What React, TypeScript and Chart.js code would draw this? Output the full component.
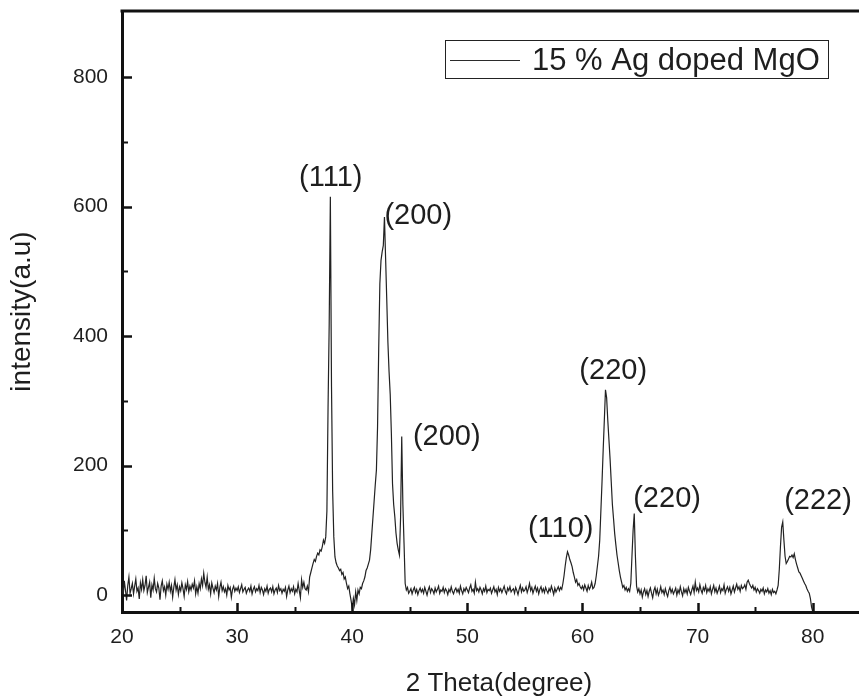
import React, { useEffect, useRef } from 'react';
import { Chart, registerables } from 'chart.js';

Chart.register(...registerables);

const seriesLabel = '15 % Ag doped MgO';
const angleStart = 20;
const angleStep = 0.1;

// intensity (a.u.) sampled every 0.1 degree from 20.0 to 80.0
const intensity = [
  12, -2, 22, 8, -8, 15, 28, 3, 10, 18, // 20
  2, 14, 25, 6, 11, -6, 19, 9, 24, 7, // 21
  15, 30, 4, 12, 20, -4, 16, 8, 26, 10, // 22
  5, 18, 11, -7, 14, 22, 7, 13, 0, 17, // 23
  9, 20, 6, 15, -3, 12, 24, 8, 16, 1, // 24
  13, 7, 19, 10, -2, 16, 9, 21, 5, 14, // 25
  8, 17, 11, 22, 2, 13, 3, 18, 10, 25, // 26
  15, 34, 20, 12, 28, 9, 16, 2, 19, 11, // 27
  4, 14, 8, 18, -2, 12, 20, 7, 13, 5, // 28
  10, 0, 15, 8, 12, -3, 9, 14, 6, 11, // 29
  7, 13, 4, 10, 16, 5, 9, 12, 3, 8, // 30
  11, 6, 14, 2, 9, 13, 5, 10, 7, 15, // 31
  4, 12, 8, 1, 10, 6, 14, 3, 9, 11, // 32
  5, 13, 2, 8, 11, 4, 15, 7, 10, 3, // 33
  9, 6, 12, -2, 8, 14, 4, 10, 6, 13, // 34
  2, 9, 5, 18, 7, -4, 24, 12, 20, 10, // 35
  8, 14, 5, 28, 35, 42, 49, 55, 52, 60, // 36
  65, 62, 70, 68, 75, 85, 80, 90, 130, 290, // 37
  420, 615, 322, 160, 90, 59, 50, 45, 42, 38, // 38
  40, 32, 35, 25, 28, 18, 10, 14, 2, -8, // 39
  -20, -5, -15, 5, -8, 8, 2, 12, 10, 18, // 40
  22, 28, 38, 42, 48, 54, 70, 95, 120, 145, // 41
  170, 193, 260, 380, 481, 517, 530, 540, 584, 520, // 42
  456, 390, 345, 310, 250, 172, 140, 121, 96, 80, // 43
  70, 62, 120, 245, 140, 80, 18, 8, 12, 3, // 44
  6, 10, 2, 8, 12, 4, 9, 1, 7, 11, // 45
  5, 9, 3, 12, 6, 0, 8, 13, 4, 10, // 46
  7, 2, 11, 5, 9, 14, 3, 8, 6, 12, // 47
  4, 10, 7, 1, 9, 5, 13, 6, 2, 8, // 48
  11, 5, 9, 3, 14, 7, 2, 10, 6, 12, // 49
  8, 4, 11, 16, 6, 9, 3, 20, 7, 10, // 50
  5, 12, 8, 2, 10, 6, 14, 4, 9, 7, // 51
  11, 3, 8, 13, 5, 9, 1, 12, 6, 10, // 52
  4, 9, 14, 6, 2, 11, 7, 13, 5, 8, // 53
  10, 3, 12, 7, 1, 9, 15, 5, 11, 6, // 54
  8, 13, 4, 10, 18, 7, 12, 3, 9, 14, // 55
  6, 11, 2, 9, 13, 5, 10, 4, 12, 7, // 56
  3, 10, 6, 14, 8, 1, 11, 5, 9, 13, // 57
  7, 12, 9, 18, 30, 45, 58, 67, 62, 55, // 58
  50, 44, 35, 28, 20, 24, 15, 18, 13, 10, // 59
  14, 8, 16, 11, 6, 15, 9, 13, 20, 10, // 60
  12, 18, 30, 45, 60, 85, 130, 175, 224, 270, // 61
  317, 305, 270, 240, 210, 175, 140, 118, 95, 78, // 62
  62, 50, 38, 28, 20, 12, 15, 8, 12, 6, // 63
  10, 6, 18, 60, 100, 126, 60, 14, 5, 10, // 64
  2, 8, -3, 5, 10, 1, 7, -2, 6, 11, // 65
  3, -4, 7, 12, 2, 9, 0, 5, 13, 4, // 66
  8, 1, 10, 3, -2, 7, 12, 4, 9, 2, // 67
  6, 11, 0, 8, 3, 13, 5, -1, 10, 4, // 68
  9, 2, 12, 6, 1, 8, 14, 4, 20, 7, // 69
  11, 5, 16, 8, 3, 12, 7, 15, 4, 10, // 70
  6, 13, 2, 9, 15, 5, 11, 3, 8, 14, // 71
  4, 10, 7, 16, 3, 9, 13, 6, 12, 2, // 72
  8, 14, 5, 11, 17, 9, 13, 6, 15, 10, // 73
  12, 16, 9, 20, 23, 18, 14, 11, 15, 8, // 74
  12, 5, 10, 7, 3, 9, 6, 11, 2, 8, // 75
  5, 10, 3, 7, 1, 9, 4, 6, 2, 8, // 76
  15, 40, 75, 105, 113, 85, 60, 49, 52, 56, // 77
  60, 59, 62, 58, 64, 55, 48, 42, 36, 34, // 78
  30, 26, 22, 18, 15, 10, 6, 3, -5, -18, // 79
  -25, // 80
];

const xTicks = [20, 30, 40, 50, 60, 70, 80];
const xMinorTicks = [25, 35, 45, 55, 65, 75, 85];
const yTicks = [0, 200, 400, 600, 800];
const yMinorTicks = [100, 300, 500, 700];

const peakAngles = [38.14, 45.74, 48.21, 58.11, 62.67, 67.35, 80.46];
const peakHeights = [644, 585, 244, 102, 346, 148, 145];
const peakTexts = ['(111)', '(200)', '(200)', '(110)', '(220)', '(220)', '(222)'];

const FONT = '"Liberation Sans", Arial, sans-serif';
const INK = '#1e1e1e';

const decorPlugin = {
  id: 'decor',
  afterDatasetsDraw(chart: any) {
    const { ctx, chartArea: a, scales } = chart;
    const x = scales.x;
    const y = scales.y;
    ctx.save();
    ctx.strokeStyle = '#111';
    const seg = (x1: number, y1: number, x2: number, y2: number, w: number) => {
      ctx.lineWidth = w;
      ctx.beginPath();
      ctx.moveTo(x1, y1);
      ctx.lineTo(x2, y2);
      ctx.stroke();
    };
    // top frame line
    seg(a.left - 1.5, a.top, a.right, a.top, 3);
    // inward ticks
    yTicks.forEach((v) => {
      const py = Math.round(y.getPixelForValue(v)) + 0.5;
      seg(a.left, py, a.left + 10, py, 2.5);
    });
    yMinorTicks.forEach((v) => {
      const py = Math.round(y.getPixelForValue(v)) + 0.5;
      seg(a.left, py, a.left + 6, py, 2);
    });
    xTicks.forEach((v) => {
      const px = Math.round(x.getPixelForValue(v)) + 0.5;
      seg(px, a.bottom, px, a.bottom - 9, 2.5);
    });
    xMinorTicks.forEach((v) => {
      const px = Math.round(x.getPixelForValue(v)) + 0.5;
      seg(px, a.bottom, px, a.bottom - 5, 2);
    });
    // peak labels
    ctx.fillStyle = INK;
    ctx.font = `29px ${FONT}`;
    ctx.textAlign = 'center';
    ctx.textBaseline = 'middle';
    peakAngles.forEach((v, i) => {
      ctx.fillText(peakTexts[i], x.getPixelForValue(v), y.getPixelForValue(peakHeights[i]));
    });
    // legend box
    const L = 445.5, T = 40.5, R = 828.5, B = 78.5;
    ctx.strokeStyle = '#222';
    ctx.lineWidth = 1;
    ctx.strokeRect(L, T, R - L, B - T);
    ctx.strokeStyle = '#2b2b2b';
    seg(450, 60.5, 520, 60.5, 1);
    ctx.font = `31px ${FONT}`;
    ctx.textAlign = 'left';
    ctx.textBaseline = 'middle';
    ctx.fillText(chart.data.datasets[0].label, 532, 61);
    ctx.restore();
  },
};

export default function App() {
  const canvasRef = useRef<HTMLCanvasElement | null>(null);

  useEffect(() => {
    if (!canvasRef.current) return;
    const points = intensity.map((v, i) => ({
      x: Math.round((angleStart + i * angleStep) * 100) / 100,
      y: v,
    }));
    const chart = new Chart(canvasRef.current, {
      type: 'line',
      data: {
        datasets: [
          {
            label: seriesLabel,
            data: points,
            borderColor: '#222',
            borderWidth: 1.2,
            pointRadius: 0,
            tension: 0,
            fill: false,
          },
        ],
      },
      options: {
        animation: false,
        responsive: false,
        devicePixelRatio: 1,
        layout: { padding: { top: 11, left: 0, right: 0, bottom: 0 } },
        plugins: {
          legend: { display: false },
          tooltip: { enabled: false },
        },
        scales: {
          x: {
            type: 'linear',
            min: 20,
            max: 85.5,
            afterBuildTicks: (s: any) => {
              s.ticks = xTicks.map((v) => ({ value: v }));
            },
            afterFit: (s: any) => {
              s.height = 85;
              s.paddingLeft = 0;
              s.paddingRight = 0;
            },
            grid: { display: false, drawTicks: false },
            border: { display: true, width: 3, color: '#111' },
            ticks: {
              color: INK,
              padding: 13,
              font: { size: 21, family: FONT },
              callback: (v: any) => String(v),
            },
            title: {
              display: true,
              text: '2 Theta(degree)',
              color: INK,
              font: { size: 26, family: FONT },
              padding: { top: 0, bottom: -2 },
            },
          },
          y: {
            type: 'linear',
            min: -26,
            max: 902,
            afterBuildTicks: (s: any) => {
              s.ticks = yTicks.map((v) => ({ value: v }));
            },
            afterFit: (s: any) => {
              s.width = 122;
              s.paddingTop = 0;
              s.paddingBottom = 0;
            },
            grid: { display: false, drawTicks: false },
            border: { display: true, width: 3, color: '#111' },
            ticks: {
              color: INK,
              padding: 14,
              font: { size: 21, family: FONT },
              callback: (v: any) => String(v),
            },
            title: {
              display: true,
              text: 'intensity(a.u)',
              color: INK,
              font: { size: 28, family: FONT },
              padding: { top: 5, bottom: 0 },
            },
          },
        },
      },
      plugins: [decorPlugin],
    });
    return () => chart.destroy();
  }, []);

  return (
    <div
      style={{
        position: 'absolute',
        left: 0,
        top: 0,
        width: 859,
        height: 697,
        overflow: 'hidden',
        background: '#fff',
      }}
    >
      <canvas ref={canvasRef} width={876} height={697} style={{ display: 'block' }} />
    </div>
  );
}
